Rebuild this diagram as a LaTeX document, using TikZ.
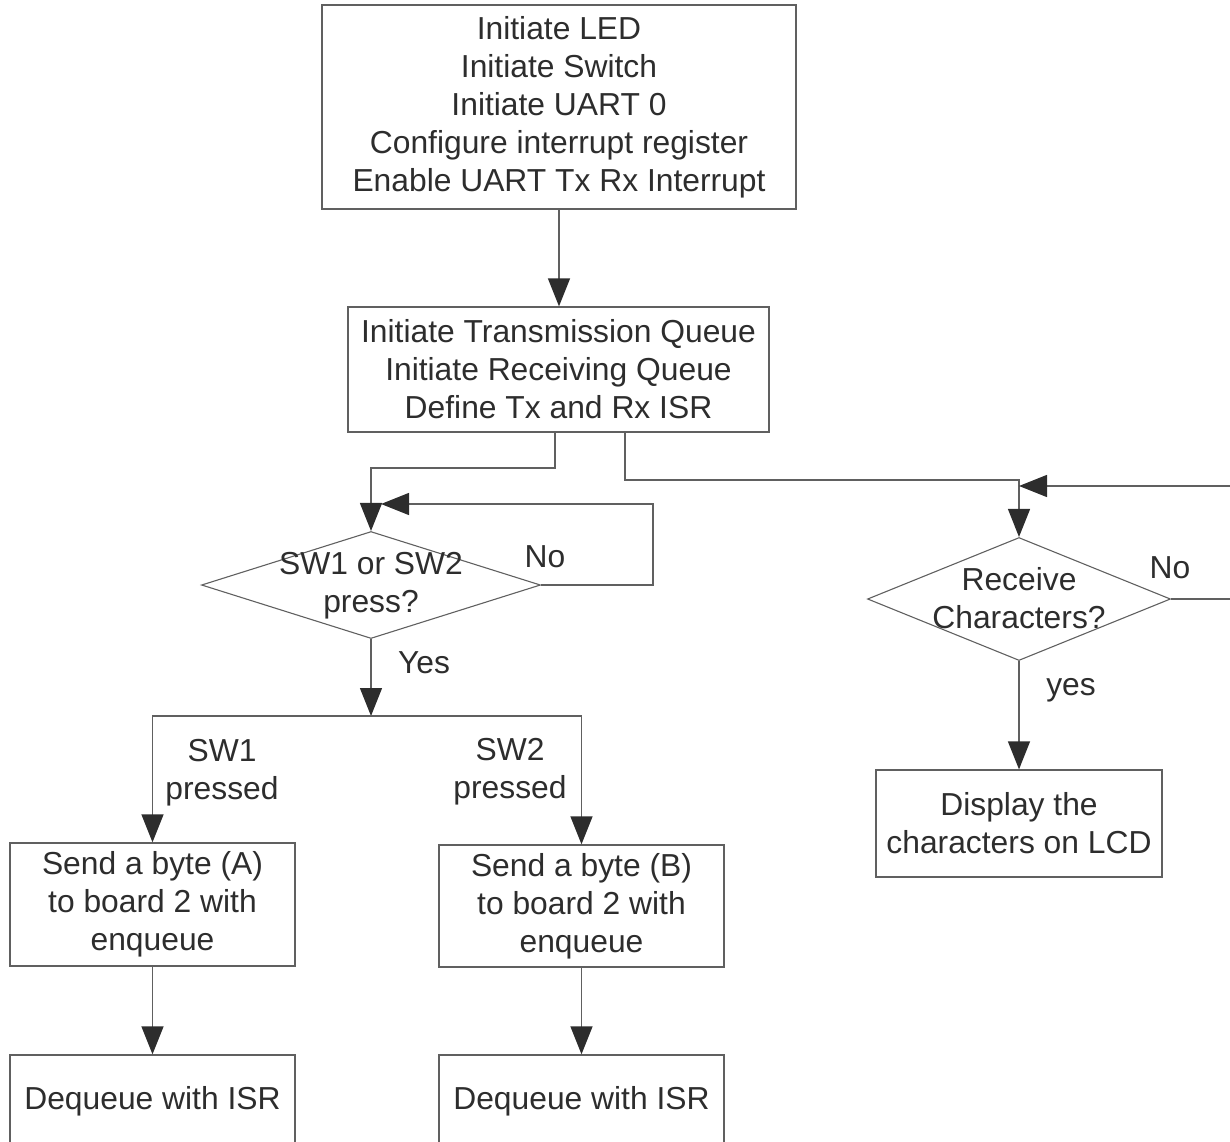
\documentclass[tikz,border=0pt]{standalone}
\usepackage{fontspec}
\setmainfont{Liberation Sans}
\usetikzlibrary{arrows.meta,shapes.geometric}

\definecolor{linegray}{RGB}{96,96,96}
\definecolor{inkgray}{RGB}{45,45,45}

\tikzset{
  flowbox/.style={draw=linegray, line width=1.3pt, inner sep=0pt, align=center, text=inkgray},
  decision/.style={draw=linegray, line width=1.1pt, shape=diamond, inner sep=0pt},
  lbl/.style={inner sep=0pt, align=center, text=inkgray},
  arr/.style={draw=linegray, line width=1.3pt, -{Triangle[length=28pt,width=22pt,fill=inkgray,color=inkgray]}},
  ln/.style={draw=linegray, line width=1.3pt}
}

\begin{document}
\begin{tikzpicture}[x=1pt,y=-1pt, font=\fontsize{31.8}{38}\selectfont]
    \useasboundingbox (0,0) rectangle (1230,1141);

    %Shape: Rectangle [init]
    \node [flowbox, minimum width=474, minimum height=204] (init) at (559,107)
      {Initiate LED\\Initiate Switch\\Initiate UART 0\\Configure interrupt register\\Enable UART Tx Rx Interrupt};
    %Shape: Rectangle [queues]
    \node [flowbox, minimum width=421, minimum height=125] (queues) at (558.5,369.5)
      {Initiate Transmission Queue\\Initiate Receiving Queue\\Define Tx and Rx ISR};

    %Shape: Diamond [switches]
    \node [decision, minimum width=339, minimum height=107] (press) at (371,585) {};
    \node [lbl] (presstxt) at (371,586) {SW1 or SW2\\press?};
    %Shape: Diamond [receive]
    \node [decision, minimum width=303, minimum height=123] (recv) at (1019,599) {};
    \node [lbl] (recvtxt) at (1019,598) {Receive\\Characters?};

    %Shape: Rectangle [send A / B]
    \node [flowbox, minimum width=285, minimum height=123] (sendA) at (152.5,904.5)
      {Send a byte (A)\\to board 2 with\\enqueue};
    \node [flowbox, minimum width=285, minimum height=122] (sendB) at (581.5,906)
      {Send a byte (B)\\to board 2 with\\enqueue};
    %Shape: Rectangle [dequeue]
    \node [flowbox, minimum width=285, minimum height=92] (deqA) at (152.5,1101) {Dequeue with ISR};
    \node [flowbox, minimum width=285, minimum height=92] (deqB) at (581.5,1101) {Dequeue with ISR};
    %Shape: Rectangle [display]
    \node [flowbox, minimum width=286, minimum height=107] (lcd) at (1019,823.5)
      {Display the\\characters on LCD};

    %Bends
    \coordinate (split1) at (555,468);
    \coordinate (split2) at (625,480);
    \coordinate (loop1) at (653,504);
    \coordinate (loop2) at (1240,486);
    \coordinate (fork) at (371,716);

    %Straight Lines
    \draw [arr] (init.south) -- (init.south |- queues.north);
    \draw [arr] (queues.south -| split1) -- (split1) -| (press.north);
    \draw [arr] (queues.south -| split2) -- (split2) -| (recv.north);
    \draw [arr] (press.east) -| (loop1) -- ([xshift=10]press.north |- loop1);
    \draw [arr] (recv.east) -| (loop2) -- (recv.north |- loop2);
    \draw [arr] (press.south) -- (fork);
    \draw [arr] (fork) -| (sendA.north);
    \draw [arr] (fork) -| (sendB.north);
    \draw [arr] (sendA.south) -- (deqA.north);
    \draw [arr] (sendB.south) -- (deqB.north);
    \draw [arr] (recv.south) -- (lcd.north);

    % Text Node
    \node [lbl] (nol) at (545,557) {No};
    % Text Node
    \node [lbl] (yesl) at (424,663) {Yes};
    % Text Node
    \node [lbl] (swone) at (222,773) {SW1\\pressed};
    % Text Node
    \node [lbl] (swtwo) at (510,772) {SW2\\pressed};
    % Text Node
    \node [lbl] (nor) at (1170,568) {No};
    % Text Node
    \node [lbl] (yesr) at (1071,690) {yes};
\end{tikzpicture}
\end{document}
